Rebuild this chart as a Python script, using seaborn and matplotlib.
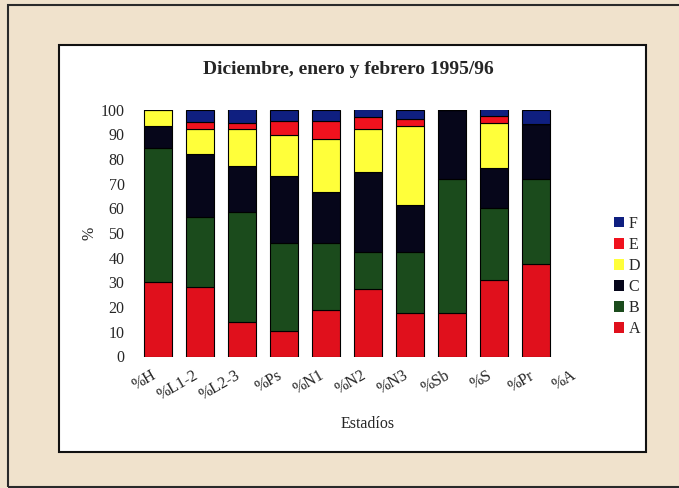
import pandas as pd
import matplotlib.pyplot as plt
import seaborn as sns
from matplotlib.patches import Rectangle
from matplotlib.transforms import ScaledTranslation

# categories (stages) and percentage of each class per stage
estadios = ['%H', '%L1-2', '%L2-3', '%Ps', '%N1', '%N2', '%N3', '%Sb', '%S', '%Pr', '%A']
clase_a = [30, 28, 14, 10.5, 19, 27.5, 17.5, 17.5, 31, 37.5, 0]
clase_b = [54.5, 28.5, 44.5, 35.5, 27, 15, 25, 54.5, 29, 34.5, 0]
clase_c = [9, 25.5, 18.5, 27, 20.5, 32, 19, 28, 16.5, 22, 0]
clase_d = [6.5, 10, 15, 16.5, 21.5, 17.5, 32, 0, 18, 0, 0]
clase_e = [0, 3, 2.5, 6, 7.5, 5, 2.5, 0, 2.8, 0, 0]
clase_f = [0, 5, 5.5, 4.5, 4.5, 3, 4, 0, 2.7, 6, 0]

clases = ['F', 'E', 'D', 'C', 'B', 'A']
colores = {'A': '#e0101c', 'B': '#1b4b1c', 'C': '#06061a',
           'D': '#ffff3a', 'E': '#f0121e', 'F': '#0f1f80'}

# long format table for the stacked histogram
series = {'A': clase_a, 'B': clase_b, 'C': clase_c, 'D': clase_d, 'E': clase_e, 'F': clase_f}
rows = []
for clase, valores in series.items():
    for est, v in zip(estadios, valores):
        if v > 0:
            rows.append({'Estadio': est, 'Clase': clase, 'Valor': v})
df = pd.DataFrame(rows)

sns.set_style("white")
plt.rcParams['font.family'] = ['Liberation Serif', 'DejaVu Serif']

W, H = 679, 488
fig = plt.figure(figsize=(W / 100, H / 100), dpi=100, facecolor='#f0e2cc')

# outer page frame and white chart area
fig.patches.append(Rectangle((8 / W, 1 - 487 / H), 1, (487 - 5) / H, transform=fig.transFigure,
                             facecolor='none', edgecolor='#2a2a2a', lw=1.5, zorder=-2))
fig.patches.append(Rectangle((59 / W, 1 - 452 / H), (646 - 59) / W, (452 - 45) / H,
                             transform=fig.transFigure, facecolor='white',
                             edgecolor='#111111', lw=1.5, zorder=-1))

ax = fig.add_axes([137 / W, 1 - 356.5 / H, (599 - 137) / W, (356.5 - 109.5) / H])
ax.patch.set_alpha(0)

sns.histplot(data=df, x='Estadio', weights='Valor', hue='Clase', hue_order=clases,
             multiple='stack', discrete=True, shrink=0.667, palette=colores,
             alpha=1, edgecolor='black', linewidth=0.8, ax=ax)

ax.set_xlim(-0.5, len(estadios) - 0.5)
ax.set_ylim(0, 100)
ax.set_yticks(range(0, 101, 10))
ax.set_xticks(range(len(estadios)))
ax.set_xticklabels(estadios, rotation=30, ha='right', rotation_mode='anchor')
ax.tick_params(axis='both', length=0, labelsize=11.5)
ax.tick_params(axis='y', pad=9)
ax.tick_params(axis='x', pad=8)
# nudge rotated labels a little to the left, like the original
for lbl in ax.get_xticklabels():
    lbl.set_transform(lbl.get_transform() + ScaledTranslation(-7 / 100, 0, fig.dpi_scale_trans))
sns.despine(ax=ax, left=True, bottom=True)

ax.set_xlabel('Estadíos', fontsize=11.5, labelpad=9)
ax.set_ylabel('%', fontsize=11.5, labelpad=2)

fig.text(348 / W, 1 - 70 / H, 'Diciembre, enero y febrero 1995/96', ha='center', va='center',
         fontsize=14, fontweight='bold')

sns.move_legend(ax, loc='center left', bbox_to_anchor=(606 / W, 1 - 276.5 / H),
                bbox_transform=fig.transFigure, frameon=False, title=None,
                handlelength=0.65, handleheight=0.65, handletextpad=0.25,
                labelspacing=0.32, borderpad=0, fontsize=11.5)
for h in ax.get_legend().legend_handles:
    h.set_edgecolor('none')

fig.savefig('out.png', dpi=100, facecolor=fig.get_facecolor())
